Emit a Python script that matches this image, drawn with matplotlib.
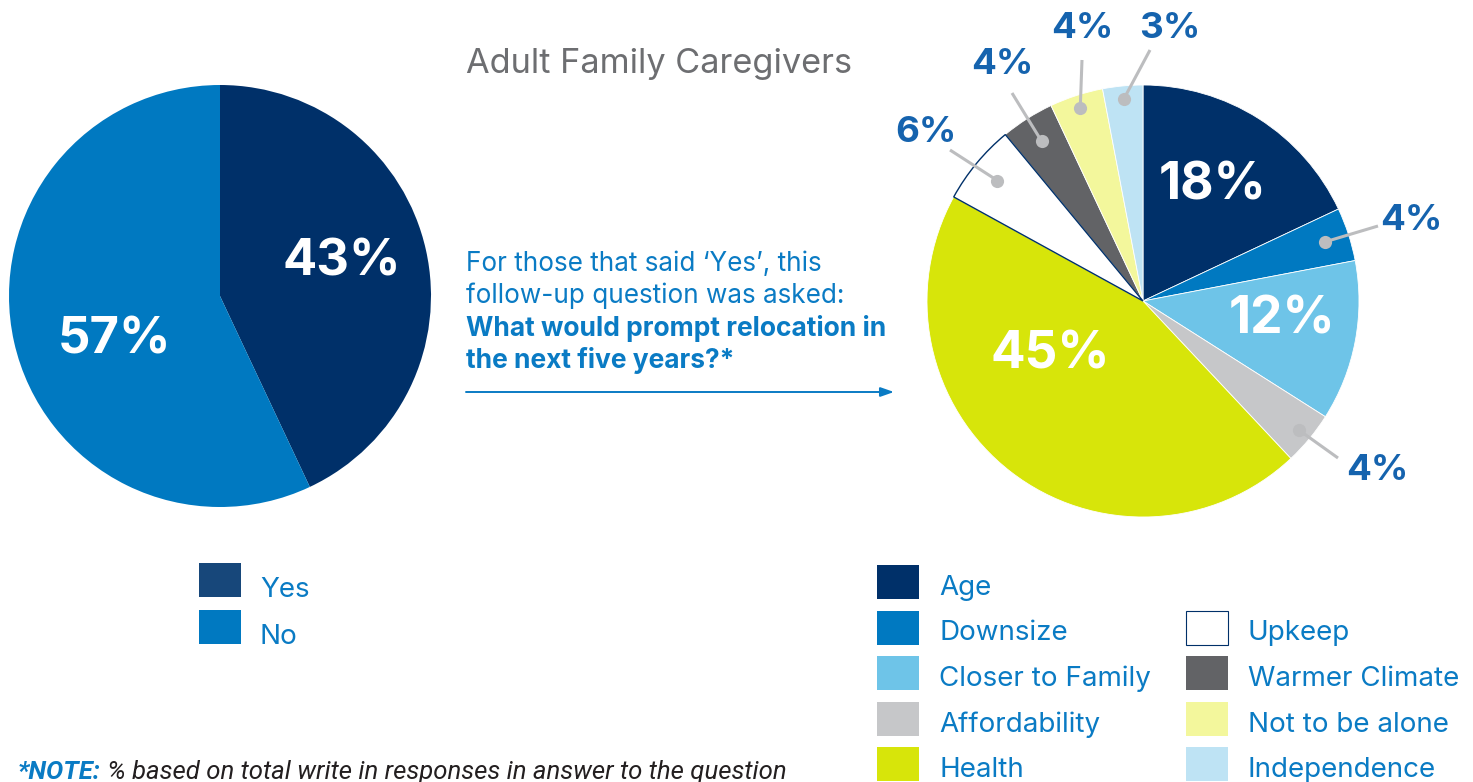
import matplotlib
matplotlib.use("Agg")
import matplotlib.pyplot as plt
from matplotlib.patches import Rectangle
import numpy as np

plt.rcParams['font.family'] = ['Inter', 'DejaVu Sans']

# ---------------- data ----------------
left_labels = ["Yes", "No"]
left_values = [43, 57]
left_colors = ["#003069", "#0079c1"]
left_legend_colors = ["#17477a", "#0079c1"]

right_labels = ["Age", "Downsize", "Closer to Family", "Affordability", "Health",
                "Upkeep", "Warmer Climate", "Not to be alone", "Independence"]
right_values = [18, 4, 12, 4, 45, 6, 4, 4, 3]
right_colors = ["#003069", "#0079c1", "#6ec4e8", "#c6c7c9", "#d7e50a",
                "#ffffff", "#626366", "#f3f79c", "#bee3f4"]

title = "Adult Family Caregivers"
intro_lines = ["For those that said \u2018Yes\u2019, this", "follow-up question was asked:"]
question_lines = ["What would prompt relocation in", "the next five years?*"]
note_bold = "*NOTE:"
note_text = " % based on total write in responses in answer to the question"

W, H = 1473, 782
DPI = 100
BLUE_TXT = "#0a7bc4"
LBL_BLUE = "#1563ae"
GRAY_LINE = "#bcbdbf"

fig = plt.figure(figsize=(W / DPI, H / DPI), dpi=DPI)
fig.patch.set_facecolor("white")

# overlay axes in pixel coordinates
ov = fig.add_axes([0, 0, 1, 1])
ov.set_xlim(0, W)
ov.set_ylim(H, 0)
ov.axis("off")


def pie_axes(cx, cy, r):
    ax = fig.add_axes([(cx - r) / W, (H - cy - r) / H, 2 * r / W, 2 * r / H])
    ax.set_xlim(-1, 1)
    ax.set_ylim(-1, 1)
    ax.axis("off")
    return ax


# ---------------- left pie ----------------
axL = pie_axes(220, 296, 211)
wl, _ = axL.pie(left_values, colors=left_colors, startangle=90, counterclock=False,
                radius=1, wedgeprops=dict(linewidth=0))
axL.set_xlim(-1, 1); axL.set_ylim(-1, 1)
left_txt_pos = [(0.578, 0.161), (-0.498, -0.209)]
for v, (x, y) in zip(left_values, left_txt_pos):
    axL.text(x, y, f"{v}%", color="white", fontsize=36.5, fontweight="bold",
             ha="center", va="center")

# ---------------- right pie ----------------
RCX, RCY, RR = 1143, 301, 216
axR = pie_axes(RCX, RCY, RR)
wr, _ = axR.pie(right_values, colors=right_colors, startangle=90, counterclock=False,
                radius=1, wedgeprops=dict(linewidth=0.6, edgecolor="white"))
axR.set_xlim(-1, 1); axR.set_ylim(-1, 1)
wr[5].set_edgecolor("#003069")
wr[5].set_linewidth(1.0)
wr[5].set_zorder(3)

# inside labels (index -> position in pie coords)
inside = {0: (0.324, 0.532), 2: (0.644, -0.088), 4: (-0.431, -0.250)}
for i, (x, y) in inside.items():
    axR.text(x, y, f"{right_values[i]}%", color="white", fontsize=37,
             fontweight="bold", ha="center", va="center")


def px2pie(px, py):
    return ((px - RCX) / RR, (RCY - py) / RR)


# outside labels: index -> (dot radius, line end px, text center px)
outside = {
    1: (0.885, (1378, 226), (1411, 220)),
    3: (0.94, (1338, 458), (1377, 471)),
    5: (0.875, (950, 150), (926, 133)),
    6: (0.875, (1012, 93), (1002, 65)),
    7: (0.94, (1082, 60), (1082, 29)),
    8: (0.94, (1150, 50), (1170, 29)),
}
for i, (rd, lend, tc) in outside.items():
    w = wr[i]
    mid = np.deg2rad((w.theta1 + w.theta2) / 2)
    dx, dy = rd * np.cos(mid), rd * np.sin(mid)
    ex, ey = px2pie(*lend)
    axR.plot([dx, ex], [dy, ey], color=GRAY_LINE, lw=2.2, solid_capstyle="butt",
             zorder=5, clip_on=False)
    axR.scatter([dx], [dy], s=90, color=GRAY_LINE, zorder=6, clip_on=False,
                linewidths=0)
    tx, ty = px2pie(*tc)
    axR.text(tx, ty, f"{right_values[i]}%", color=LBL_BLUE, fontsize=26.5,
             fontweight="bold", ha="center", va="center", clip_on=False)

# ---------------- texts ----------------
ov.text(466, 64, title, color="#6d6e71", fontsize=24.7, ha="left", va="center")
for k, line in enumerate(intro_lines):
    ov.text(466, 264 + 32 * k, line, color=BLUE_TXT, fontsize=18.8, ha="left", va="center")
for k, line in enumerate(question_lines):
    ov.text(466, 328 + 32 * k, line, color=BLUE_TXT, fontsize=19, fontweight="bold",
            ha="left", va="center")
ov.annotate("", xy=(894, 392), xytext=(466, 392),
            arrowprops=dict(arrowstyle="-|>,head_length=0.8,head_width=0.28",
                            color=BLUE_TXT, lw=1.4, shrinkA=0, shrinkB=0))

# note
t1 = ov.text(18, 779, note_bold, color=BLUE_TXT, fontsize=18.5, fontweight="bold",
             fontstyle="italic", family=["Roboto", "DejaVu Sans"], ha="left", va="baseline")
fig.canvas.draw()
bb = t1.get_window_extent()
ov.text(18 + bb.width, 779, note_text, color="#231f20", fontsize=18.5,
        fontstyle="italic", family=["Roboto", "DejaVu Sans"], ha="left", va="baseline")

# ---------------- legends ----------------
SW, SH = 42, 34
for k, (lab, col) in enumerate(zip(left_labels, left_legend_colors)):
    y0 = 563 + 47 * k
    ov.add_patch(Rectangle((199, y0), SW, SH, facecolor=col, edgecolor="none"))
    ov.text(260, y0 + SH, lab, color=BLUE_TXT, fontsize=20, ha="left", va="baseline")

# right legend: first column 5 items, second column 4 items starting at row 1
for k, (lab, col) in enumerate(zip(right_labels, right_colors)):
    if k < 5:
        x0, row = 877, k
    else:
        x0, row = 1186, k - 4
    y0 = 565 + 45.5 * row
    ec = "#003069" if col == "#ffffff" else "none"
    ov.add_patch(Rectangle((x0, y0), SW, SH, facecolor=col, edgecolor=ec, lw=0.8))
    ov.text(x0 + 62, y0 + SH - 4, lab, color=BLUE_TXT, fontsize=20,
            ha="left", va="baseline")

fig.savefig("out.png", dpi=DPI, facecolor="white")
